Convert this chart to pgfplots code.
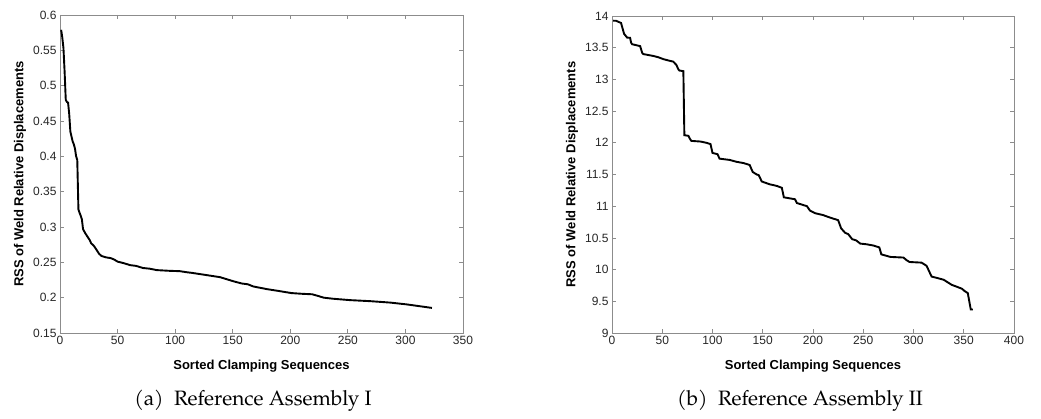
\documentclass[border=0pt]{standalone}
\usepackage{fontspec}
\setmainfont{Liberation Sans}
\newfontfamily\capfont{TeX Gyre Pagella}
\usepackage{pgfplots}
\pgfplotsset{compat=1.18}
\definecolor{axgray}{HTML}{8C8C8C}
\definecolor{ticktext}{HTML}{262626}

\pgfplotsset{
  matlabstyle/.style={
    scale only axis,
    axis line style={axgray,line width=0.8pt},
    every tick/.style={axgray,line width=0.8pt},
    major tick length=4pt,
    tick align=inside,
    tick label style={font=\fontsize{12}{14}\selectfont,text=ticktext},
    /pgf/number format/assume math mode=true,
    /pgf/number format/fixed,
    label style={font=\bfseries\fontsize{13}{15}\selectfont},
    xlabel={Sorted Clamping Sequences},
    ylabel={RSS of Weld Relative Displacements},
    xlabel style={at={(axis description cs:0.5,-0.105)},anchor=center},
    clip=true,
  }
}

\begin{document}
\begin{tikzpicture}
\path[use as bounding box] (0pt,0pt) rectangle (1041pt,-419pt);

% left: assembly I
\begin{axis}[
    matlabstyle,
    at={(60pt,-333pt)}, anchor=south west,
    width=403pt, height=318pt,
    xmin=0, xmax=350, ymin=0.15, ymax=0.6,
    xtick={0,50,...,350},
    ytick={0.15,0.2,0.25,0.3,0.35,0.4,0.45,0.5,0.55,0.6},
    yticklabels={0.15,0.2,0.25,0.3,0.35,0.4,0.45,0.5,0.55,0.6},
    ylabel style={at={(axis description cs:-0.099,0.5)},anchor=center},
]
\addplot[black,line width=1.9pt] coordinates {
(1,0.579) (2,0.568) (3,0.553) (4,0.52) (5,0.48) (6,0.477) (7,0.476)
(8,0.46) (9,0.435) (10,0.428) (11,0.421) (12,0.417) (13,0.411)
(14,0.40) (15,0.395) (16,0.325) (17,0.320) (18,0.316) (19,0.311)
(20,0.297) (22,0.291) (24,0.286) (26,0.281) (27,0.277) (29,0.274)
(30,0.272) (32,0.267) (34,0.262) (36,0.259) (40,0.257) (44,0.256)
(47,0.254) (50,0.251) (55,0.249) (61,0.246) (66,0.245) (72,0.242)
(78,0.241) (84,0.239) (95,0.238) (104,0.2375) (110,0.236) (115,0.235)
(127,0.232) (139,0.229) (145,0.226) (151,0.223) (158,0.220) (163,0.219)
(168,0.2158) (180,0.212) (191,0.2092) (201,0.2065) (210,0.2055)
(219,0.2048) (224,0.2025) (229,0.200) (237,0.1985) (252,0.1965)
(270,0.195) (287,0.193) (301,0.1905) (312,0.188) (323,0.1855)
};
\end{axis}

% right: assembly II
\begin{axis}[
    matlabstyle,
    at={(612pt,-333pt)}, anchor=south west,
    width=402pt, height=317pt,
    xmin=0, xmax=400, ymin=9, ymax=14,
    xtick={0,50,...,400},
    ytick={9,9.5,...,14},
    ylabel style={at={(axis description cs:-0.0995,0.5)},anchor=center},
]
\addplot[black,line width=1.9pt] coordinates {
(1,13.926) (4,13.925) (9,13.89) (12,13.72) (13,13.70) (15,13.66)
(18,13.655) (19,13.58) (20,13.555) (24,13.54) (28,13.525) (30,13.42)
(31,13.40) (41,13.37) (46,13.35) (51,13.32) (57,13.295) (61,13.28)
(64,13.23) (66,13.16) (67,13.14) (71,13.13) (72,12.12) (76,12.11)
(78,12.05) (79,12.03) (88,12.02) (94,12.00) (98,11.98) (100,11.84)
(105,11.82) (107,11.75) (117,11.73) (124,11.70) (131,11.68) (137,11.65)
(140,11.54) (144,11.50) (146,11.49) (149,11.39) (157,11.345) (164,11.32)
(169,11.29) (171,11.14) (182,11.11) (184,11.05) (194,11.00) (197,10.93)
(202,10.89) (210,10.86) (217,10.82) (225,10.78) (228,10.65) (232,10.58)
(235,10.56) (239,10.48) (243,10.46) (247,10.41) (253,10.40) (260,10.38)
(266,10.35) (268,10.24) (277,10.20) (290,10.19) (293,10.15) (296,10.12)
(308,10.11) (313,10.06) (318,9.89) (323,9.87) (330,9.84) (333,9.81)
(338,9.76) (343,9.73) (348,9.70) (351,9.66) (354,9.63) (357,9.37)
(359,9.37)
};
\end{axis}

\node[font=\capfont\fontsize{20.8}{24}\selectfont] at (253pt,-401pt) {(a)\enspace Reference Assembly I};
\node[font=\capfont\fontsize{20.8}{24}\selectfont] at (800pt,-401pt) {(b)\enspace Reference Assembly II};
\end{tikzpicture}
\end{document}
